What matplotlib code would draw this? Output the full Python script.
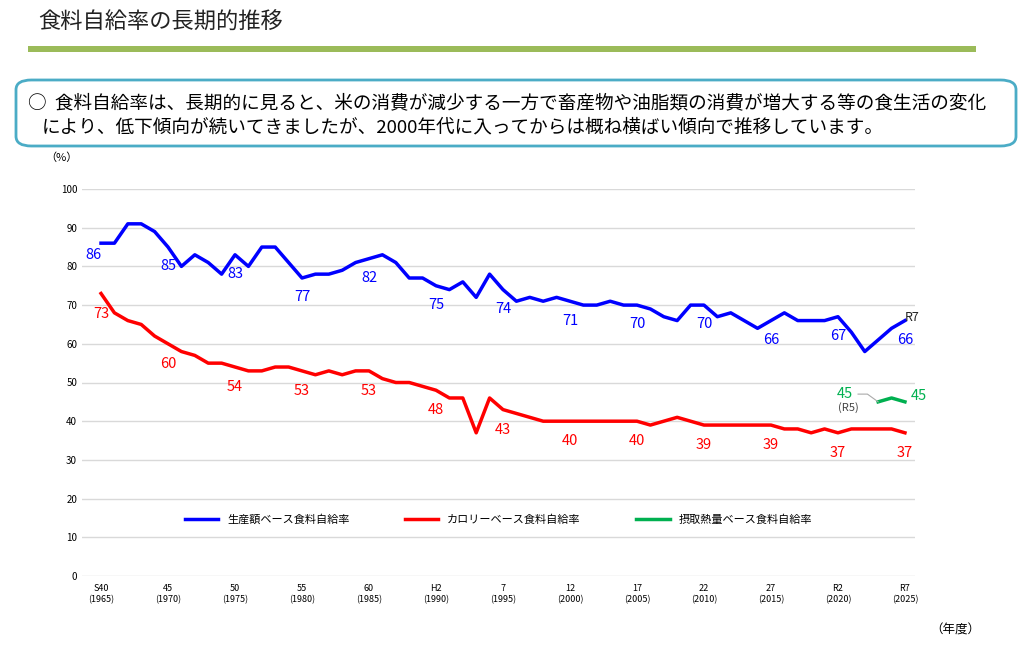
import matplotlib
matplotlib.use("Agg")
import matplotlib.pyplot as plt
from matplotlib.patches import FancyBboxPatch
import numpy as np

plt.rcParams['font.family'] = ['Noto Sans CJK JP', 'DejaVu Sans']

years = list(range(1965, 2026))
production = [86,86,91,91,89,85,80,83,81,78,83,80,85,85,81,77,78,78,79,81,82,83,81,77,77,75,74,76,72,78,74,71,72,71,72,71,70,70,71,70,70,69,67,66,70,70,67,68,66,64,66,68,66,66,66,67,63,58,61,64,66]
calorie = [73,68,66,65,62,60,58,57,55,55,54,53,53,54,54,53,52,53,52,53,53,51,50,50,49,48,46,46,37,46,43,42,41,40,40,40,40,40,40,40,40,39,40,41,40,39,39,39,39,39,39,38,38,37,38,37,38,38,38,38,37]
weight_years = [2023, 2024, 2025]
weight = [45, 46, 45]
tick_years = [1965,1970,1975,1980,1985,1990,1995,2000,2005,2010,2015,2020,2025]
tick_labels = ["S40\n(1965)","45\n(1970)","50\n(1975)","55\n(1980)","60\n(1985)","H2\n(1990)","7\n(1995)","12\n(2000)","17\n(2005)","22\n(2010)","27\n(2015)","R2\n(2020)","R7\n(2025)"]
label_years = [1965,1970,1975,1980,1985,1990,1995,2000,2005,2010,2015,2020,2025]

W, H = 1024, 645
fig = plt.figure(figsize=(W/100, H/100), dpi=100)

def fx(px): return px / W
def fy(py): return 1 - py / H

fig.text(fx(38), fy(22), "食料自給率の長期的推移", fontsize=16, va='center', ha='left', color='#222')
fig.add_artist(plt.Rectangle((fx(28), fy(52)), fx(976)-fx(28), fy(46)-fy(52), transform=fig.transFigure, color='#9BBB59', lw=0))
box = FancyBboxPatch((fx(16), fy(146)), fx(1016)-fx(16), fy(80)-fy(146), boxstyle="round,pad=0,rounding_size=0.015",
                     transform=fig.transFigure, fc='white', ec='#4BACC6', lw=2)
fig.add_artist(box)
fig.text(fx(28), fy(103), "○  食料自給率は、長期的に見ると、米の消費が減少する一方で畜産物や油脂類の消費が増大する等の食生活の変化", fontsize=13.4, va='center')
fig.text(fx(42), fy(127), "により、低下傾向が続いてきましたが、2000年代に入ってからは概ね横ばい傾向で推移しています。", fontsize=13.4, va='center')

ax = fig.add_axes([fx(82), fy(576), fx(915)-fx(82), fy(189)-fy(576)])
ax.set_ylim(0, 100)
ax.set_xlim(1963.58, 2025.75)
ax.set_yticks(range(0, 101, 10))
ax.tick_params(axis='y', labelsize=7, length=0)
ax.set_xticks(tick_years)
ax.set_xticklabels(tick_labels, fontsize=6.5)
ax.tick_params(axis='x', length=0, pad=6)
ax.grid(axis='y', color='#d9d9d9', lw=1)
for s in ax.spines.values():
    s.set_visible(False)
ax.set_axisbelow(True)

ax.plot(years, production, color='#0000FF', lw=2.5, label='生産額ベース食料自給率')
ax.plot(years, calorie, color='#FF0000', lw=2.5, label='カロリーベース食料自給率')
ax.plot(weight_years, weight, color='#00B050', lw=2.5, label='摂取熱量ベース食料自給率')

for y in label_years:
    v = production[years.index(y)]
    xx = y - 0.6 if y == 1965 else y
    ax.text(xx, v - 5 if y != 1965 else v - 3, str(v), color='#0000FF', ha='center', va='center', fontsize=10.5)
for y in label_years:
    v = calorie[years.index(y)]
    ax.text(y, v - 5.2, str(v), color='#FF0000', ha='center', va='center', fontsize=10.5)
ax.text(2025.0, 66.8, "R7", fontsize=9, color='#222', ha='left', va='center')
ax.text(2020.5, 47, "45", color='#00B050', fontsize=10.5, ha='center', va='center')
ax.plot([2021.5, 2022.2, 2023], [47, 47, 45], color='#aaa', lw=0.8)
ax.text(2026.0, 46.5, "45", color='#00B050', fontsize=10.5, ha='center', va='center')
ax.text(2020.8, 43.5, "(R5)", color='#444', fontsize=8, ha='center', va='center')

ax.legend(loc='upper center', bbox_to_anchor=(0.5, 0.185), ncol=3, frameon=False, fontsize=8, handlelength=3, columnspacing=5)

fig.text(fx(45), fy(158), "（%）", fontsize=8, va='center')
fig.text(fx(930), fy(630), "（年度）", fontsize=9, va='center')

fig.savefig("out.png", dpi=100)
